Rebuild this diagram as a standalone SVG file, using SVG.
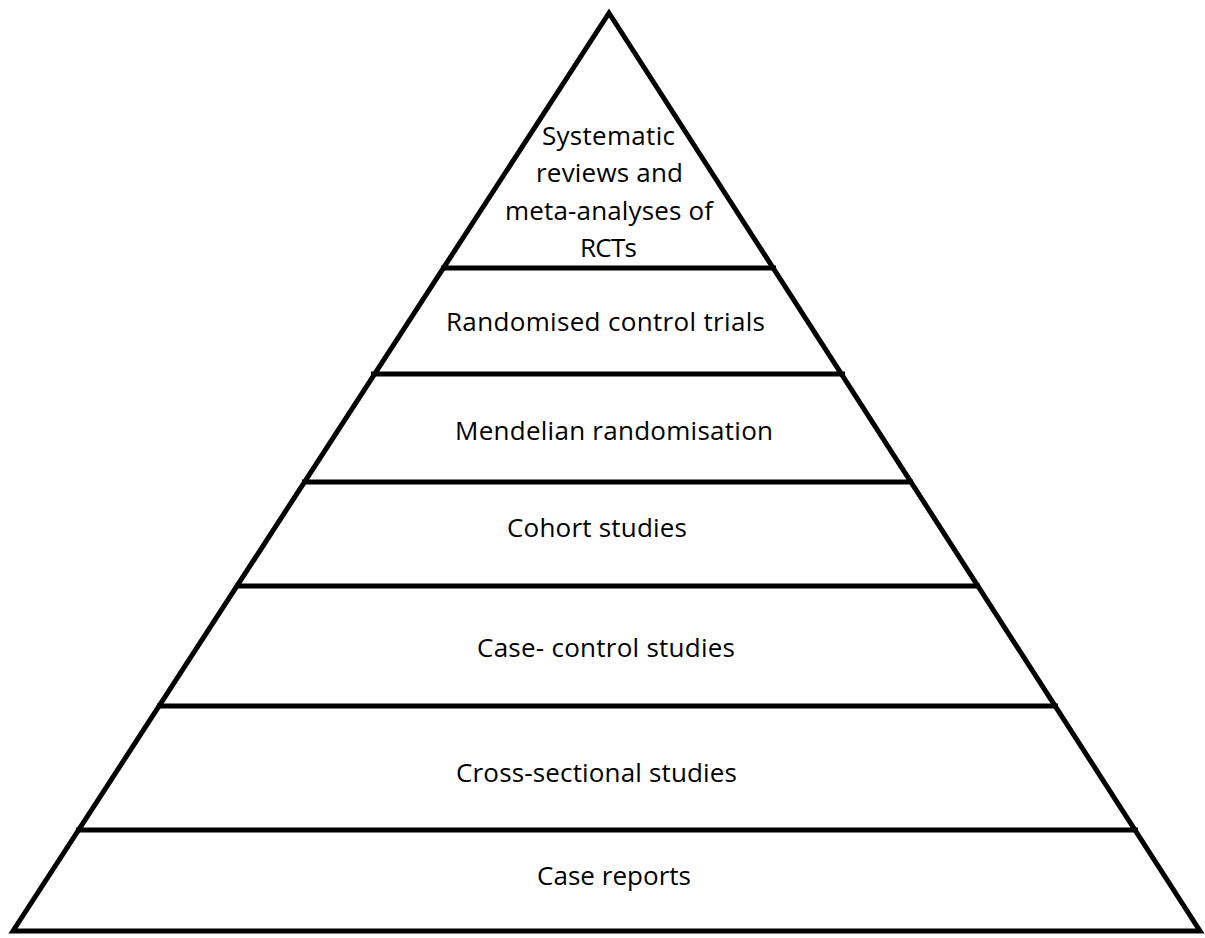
<svg xmlns="http://www.w3.org/2000/svg" width="1205" height="938" viewBox="0 0 1205 938">
<style>
.edge{fill:none;stroke:#000;stroke-width:5;stroke-linejoin:miter}
.div{stroke:#000;stroke-width:5}
.lbl{font-family:"Open Sans","Noto Sans","Liberation Sans",sans-serif;font-size:26px;fill:#000;text-anchor:middle}
</style>
<rect width="1205" height="938" fill="#fff"/>
<g id="pyramid">
<polygon class="edge" points="609,13 1200,931 13,931"/>
</g>
<g id="connectors">
<line class="div" x1="441" y1="268" x2="776" y2="268"/>
<line class="div" x1="371" y1="374" x2="845" y2="374"/>
<line class="div" x1="302" y1="482" x2="913" y2="482"/>
<line class="div" x1="235" y1="586" x2="980" y2="586"/>
<line class="div" x1="157" y1="706" x2="1058" y2="706"/>
<line class="div" x1="76" y1="830" x2="1138" y2="830"/>
</g>
<g id="tier1">
<text class="lbl" x="608.5" y="145" textLength="133">Systematic</text>
<text class="lbl" x="609.5" y="182" textLength="147">reviews and</text>
<text class="lbl" x="609" y="220" textLength="208">meta-analyses of</text>
<text class="lbl" x="608.5" y="257" textLength="57">RCTs</text>
</g>
<g id="tier2"><text class="lbl" x="605.5" y="331" textLength="319">Randomised control trials</text></g>
<g id="tier3"><text class="lbl" x="614" y="440" textLength="318">Mendelian randomisation</text></g>
<g id="tier4"><text class="lbl" x="597" y="537" textLength="180">Cohort studies</text></g>
<g id="tier5"><text class="lbl" x="606" y="657" textLength="258">Case- control studies</text></g>
<g id="tier6"><text class="lbl" x="596.5" y="782" textLength="281">Cross-sectional studies</text></g>
<g id="tier7"><text class="lbl" x="614" y="885" textLength="154">Case reports</text></g>
</svg>
